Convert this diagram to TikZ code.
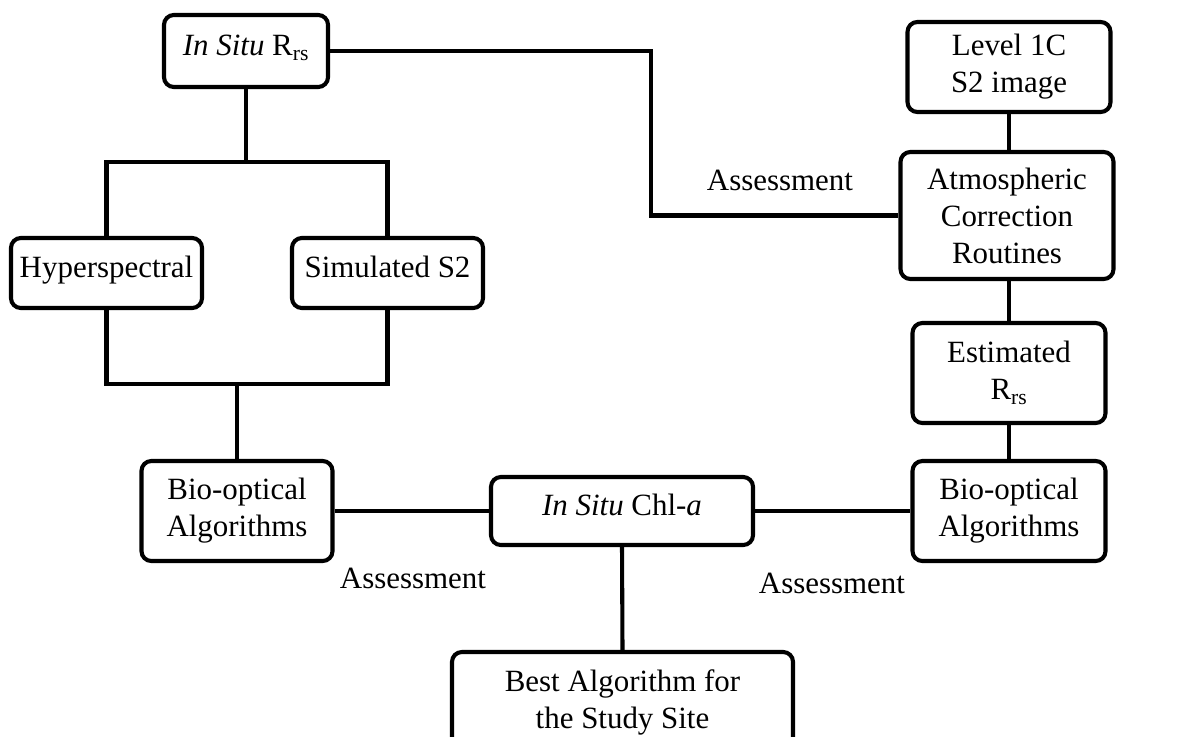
\documentclass[tikz,border=0pt]{standalone}
\usepackage{fontspec}
\setmainfont{Liberation Serif}
\usetikzlibrary{positioning,calc}
\tikzset{
  box/.style={draw=black, fill=white, rounded corners=7pt, line width=2.9pt, align=center,
    inner sep=1pt, font=\fontsize{22}{26.3}\selectfont},
  oneline/.style={text height=1.5ex, text depth=0pt},
  link/.style={black, line width=2.9pt},
  lab/.style={font=\fontsize{22}{26.3}\selectfont},
}

\begin{document}
\begin{tikzpicture}[x=0.025cm, y=-0.025cm]
  \clip (0,0) rectangle (1187,736);
  \fill[white] (0,0) rectangle (1187,736);

  % left branch: in situ spectra
  \node[box, oneline, minimum width=164*0.025cm, minimum height=72*0.025cm] (rrs) at (246,51) {\textit{In Situ} R\textsubscript{rs}};
  \node[box, oneline, minimum width=191*0.025cm, minimum height=70*0.025cm] (hyper) at (106.5,273) {Hyperspectral};
  \node[box, oneline, minimum width=191*0.025cm, minimum height=70*0.025cm] (simu) at (387.5,273) {Simulated S2};
  \node[box, minimum width=191*0.025cm, minimum height=100*0.025cm] (bioL) at (237,511) {Bio-optical\\Algorithms};

  % centre
  \node[box, oneline, minimum width=262*0.025cm, minimum height=68*0.025cm] (chl) at (622,511) {\textit{In Situ} Chl-\textit{a}};
  \node[box, minimum width=341*0.025cm, minimum height=100*0.025cm] (best) at (622.5,702) {Best Algorithm for\\the Study Site};

  % right branch: satellite image
  \node[box, minimum width=203*0.025cm, minimum height=90*0.025cm] (level) at (1009,67) {Level 1C\\S2 image};
  \node[box, minimum width=213*0.025cm, minimum height=127*0.025cm] (atm) at (1007,215.5) {Atmospheric\\Correction\\Routines};
  \node[box, minimum width=193*0.025cm, minimum height=100*0.025cm] (est) at (1009,373) {Estimated\\R\textsubscript{rs}};
  \node[box, minimum width=193*0.025cm, minimum height=100*0.025cm] (bioR) at (1009,511) {Bio-optical\\Algorithms};

  % junction points
  \coordinate (jtop) at (246,162);
  \coordinate (jbot) at (237,384);
  \coordinate (bend) at (651,130);

  \draw[link] (rrs.south) -- (jtop);
  \draw[link] (hyper.north) |- (jtop) -| (simu.north);
  \draw[link] (hyper.south) |- (jbot) -| (simu.south);
  \draw[link] (jbot) -- (bioL.north);
  \draw[link] (bioL.east) -- (chl.west);
  \draw[link] (chl.east) -- (bioR.west);
  \draw[link] (chl.south) -- (best.north);
  \draw[link] (level.south) -- (level.south |- atm.north);
  \draw[link] (est.north |- atm.south) -- (est.north);
  \draw[link] (est.south) -- (bioR.north);
  \draw[link] (rrs.east) -| (bend) |- (atm.west);

  \node[lab] (as1) at (780,180) {Assessment};
  \node[lab] (as2) at (413,578) {Assessment};
  \node[lab] (as3) at (832,583) {Assessment};
\end{tikzpicture}
\end{document}
